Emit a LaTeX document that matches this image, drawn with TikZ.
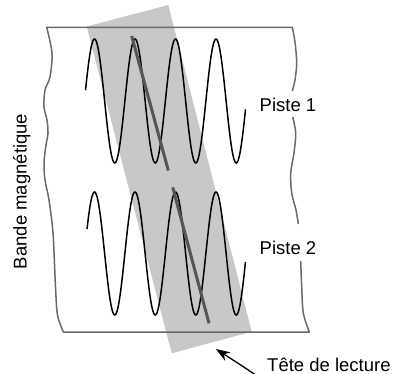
\documentclass[tikz,border=0pt]{standalone}
\usepackage{fontspec}
\setmainfont{Liberation Sans}
\usetikzlibrary{arrows.meta}
\definecolor{tapegray}{HTML}{6A6A6A}
\definecolor{headfill}{HTML}{C8C8C8}
\definecolor{gapgray}{HTML}{555555}
\tikzset{
  tape/.style={draw=tapegray, line width=1.5pt, line join=round},
  wave/.style={draw=black, line width=1.5pt, smooth, samples=260},
  gapline/.style={draw=gapgray, line width=3pt},
  lbl/.style={font=\fontsize{18.5}{21}\selectfont, inner sep=0pt, text=black},
}
\begin{document}
\begin{tikzpicture}[x=1pt, y=-1pt]
\useasboundingbox (0,0) rectangle (396,374);
% reading head (grey strip)
\fill[headfill] (86.7,26.5) -- (168.3,5) -- (251.7,331.7) -- (171.7,353.3) -- cycle;
% tape outline with gaps for labels
\draw[tape] plot[smooth] coordinates {(292.3,91) (295,80) (296.7,63) (295,42) (292.3,27.3)}
  -- plot[smooth] coordinates {(46.7,27.3) (52,53) (50,77) (45,90) (44,107) (47,120) (48,133) (45.7,147) (44,163) (45,180) (49,200) (53,233) (55.5,287) (57.5,315) (63.3,332)}
  -- plot[smooth] coordinates {(309.3,332) (303.3,313) (301.7,287) (300.7,261)};
\draw[tape] plot[smooth] coordinates {(292.7,117) (295.7,133) (294,153) (290.7,173) (291.7,193) (296,210) (298.3,224)};
% recorded signals
\draw[wave] plot[domain=85.5:245.5] (\x, {101 - 62*cos(8.8889*(\x-94.5))});
\draw[wave] plot[domain=87:245.5] (\x, {253.5 - 61.5*cos(8.8889*(\x-94.5))});
% head gaps
\draw[gapline] (131.7,36) -- (168.3,170.5);
\draw[gapline] (172.7,187.3) -- (209,323.3);
% labels
\node[lbl, anchor=base west] (p1) at (259.5,111.9) {Piste 1};
\node[lbl, anchor=base west] (p2) at (259.5,254.5) {Piste 2};
\node[lbl, anchor=base west, text depth=0pt] (tete) at (267,371.5) {Tête de lecture};
\node[lbl, rotate=90, anchor=base] (bande) at (26.5,191.5) {Bande magnétique};
% arrow to the head
\coordinate (arrtip) at (216,349);
\coordinate (arrbend) at (241.5,365.5);
\draw[line width=1.3pt, -{Stealth[length=14pt, width=10pt]}] ([xshift=-7.5pt, yshift=-6pt]tete.base west) -- (arrbend) -- (arrtip);
\end{tikzpicture}
\end{document}
